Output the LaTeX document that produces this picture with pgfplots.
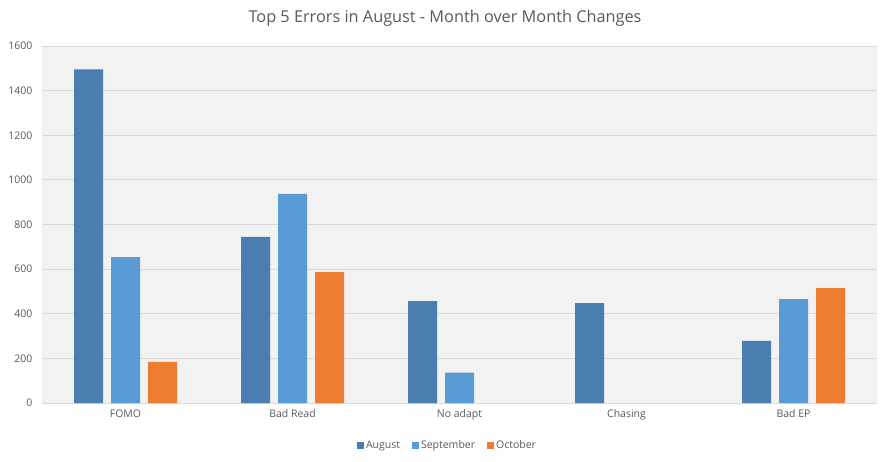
\documentclass[border=0pt]{standalone}
\usepackage{fontspec}
\setmainfont{Open Sans}
\usepackage{pgfplots}
\pgfplotsset{compat=1.18}
\definecolor{aug}{RGB}{74,126,176}
\definecolor{sep}{RGB}{91,155,213}
\definecolor{oct}{RGB}{237,125,49}
\definecolor{txt}{RGB}{89,89,89}
\definecolor{gridc}{RGB}{217,217,217}
\definecolor{bg}{RGB}{242,242,242}
\begin{document}
\begin{tikzpicture}[x=1pt,y=1pt]
\useasboundingbox (0,0) rectangle (890,461);
\begin{axis}[
  at={(42pt,58pt)}, anchor=south west,
  scale only axis, width=835pt, height=357pt,
  xmin=-0.5, xmax=4.5, ymin=0, ymax=1600,
  ybar=8pt, bar width=29pt,
  axis background/.style={fill=bg},
  axis line style={draw=none},
  xtick={0,1,2,3,4},
  xticklabels={FOMO,Bad Read,No adapt,Chasing,Bad EP},
  ytick={0,200,...,1600},
  ymajorgrids, grid style={gridc, line width=0.9pt},
  major tick length=0pt,
  tick label style={font=\fontsize{10.5}{12}\selectfont, text=txt},
  /pgf/number format/assume math mode=true,
  /pgf/number format/1000 sep={},
  xticklabel style={yshift=-3pt},
  yticklabel style={xshift=-6pt},
  legend style={at={(0.5,0)}, anchor=center, xshift=-12pt, yshift=-42pt,
    legend columns=3, draw=none, fill=none,
    font=\fontsize{10.5}{12}\selectfont, text=txt,
    /tikz/every even column/.append style={column sep=10pt}},
  legend image code/.code={\fill[#1] (0pt,-3.5pt) rectangle (7pt,3.5pt);},
]
\addplot[fill=aug, draw=none] coordinates {(0,1495) (1,745) (2,457) (3,448) (4,278)};
\addplot[fill=sep, draw=none] coordinates {(0,654) (1,937) (2,136) (4,466)};
\addplot[fill=oct, draw=none] coordinates {(0,184) (1,587) (4,515)};
\legend{August,September,October}
\end{axis}
\node[text=txt, font=\fontsize{16.3}{19}\selectfont] at (445,443) {Top 5 Errors in August - Month over Month Changes};
\end{tikzpicture}
\end{document}
